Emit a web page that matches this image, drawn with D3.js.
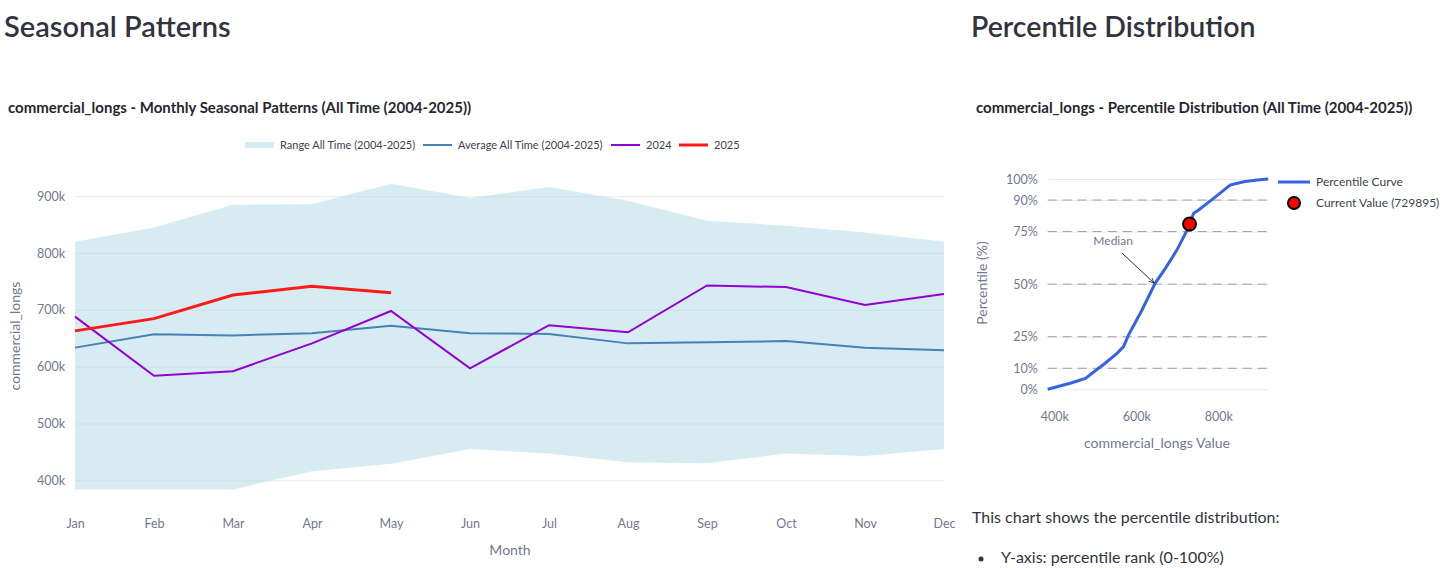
<!DOCTYPE html>
<html>
<head>
<meta charset="utf-8">
<script src="https://cdn.jsdelivr.net/npm/d3@7"></script>
<style>
    body { margin: 0; background: #fff; }
    svg { display: block; }
</style>
</head>
<body>
<svg id="page" width="1456" height="568"></svg>
<script>
// --- data ---
const months = ["Jan", "Feb", "Mar", "Apr", "May", "Jun", "Jul", "Aug", "Sep", "Oct", "Nov", "Dec"];
const rangeMax = [820000, 845000, 885000, 886000, 922000, 897000, 916000, 892000, 857000, 848000, 836000, 820000];
const rangeMin = [384000, 384000, 384000, 416000, 429000, 455000, 447000, 432000, 430000, 447000, 443000, 455000];
const avgAllTime = [633500, 657000, 655000, 659000, 672000, 659000, 657500, 641000, 643000, 645000, 633500, 629000];
const values2024 = [688000, 584000, 592000, 641000, 698000, 597000, 673000, 660500, 743000, 740000, 708500, 728000];
const values2025 = [663000, 684500, 726000, 741500, 729895];
const seasonalTicks = [400000, 500000, 600000, 700000, 800000, 900000];

const pctValues = [384000, 439000, 476000, 508000, 524000, 553000, 569000, 581000, 614000, 646000, 671000, 699000, 724000, 740000, 752000, 788500, 829000, 862000, 895000, 922000];
const pctRanks = [0, 2.9, 5.2, 10, 12.4, 17.1, 20.3, 25.8, 37.7, 50.4, 57.5, 66.2, 75.7, 83.7, 85.3, 90.8, 97.1, 98.7, 99.5, 100];
const pctTicks = [0, 10, 25, 50, 75, 90, 100];
const pctDashed = [10, 25, 50, 75, 90];
const pctXTicks = [400000, 600000, 800000];
const currentValue = 729895;
const currentPct = 78.6;
const medianValue = 646000;

const FONT = "Lato, 'Noto Sans', sans-serif";
const TICK = "#737892", GRID = "#e6eaf0", DARK = "#262730", LEGEND = "#3d4150";

const svg = d3.select("#page").style("font-family", FONT);
const kFmt = d => `${d / 1000}k`;

// page headers
svg.append("text").attr("x", 4).attr("y", 37).text("Seasonal Patterns")
    .attr("font-size", 29).attr("font-weight", 600).attr("fill", "#31333f");
svg.append("text").attr("x", 971).attr("y", 37).text("Percentile Distribution")
    .attr("font-size", 28.5).attr("font-weight", 600).attr("fill", "#31333f");

// ================= Seasonal chart =================
(() => {
    const x = d3.scalePoint().domain(months).range([75, 944]);
    const y = d3.scaleLinear().domain([384000, 925000]).range([489.4, 182]);

    svg.append("text").attr("x", 8).attr("y", 113)
        .text("commercial_longs - Monthly Seasonal Patterns (All Time (2004-2025))")
        .attr("font-size", 15).attr("font-weight", 700).attr("fill", DARK);

    // grid lines
    const yAxis = svg.append("g")
        .attr("transform", "translate(75,0)")
        .call(d3.axisLeft(y).tickValues(seasonalTicks).tickFormat(kFmt).tickSize(-869).tickPadding(10));
    yAxis.select(".domain").remove();
    yAxis.selectAll("line").attr("stroke", GRID);
    yAxis.selectAll("text").attr("fill", TICK).attr("font-size", 12.5).attr("font-family", FONT);

    const xAxis = svg.append("g")
        .attr("transform", "translate(0,489)")
        .call(d3.axisBottom(x).tickSize(0).tickPadding(30));
    xAxis.select(".domain").remove();
    xAxis.selectAll("text").attr("fill", TICK).attr("font-size", 12.5).attr("font-family", FONT);

    // range band
    const area = d3.area()
        .x((d, i) => x(months[i]))
        .y0((d, i) => y(rangeMin[i]))
        .y1(d => y(d));
    svg.append("path").datum(rangeMax)
        .attr("d", area)
        .attr("fill", "rgba(173,216,230,0.5)");

    const line = d3.line().x((d, i) => x(months[i])).y(d => y(d));
    svg.append("path").datum(avgAllTime).attr("d", line)
        .attr("fill", "none").attr("stroke", "#4682b4").attr("stroke-width", 2);
    svg.append("path").datum(values2024).attr("d", line)
        .attr("fill", "none").attr("stroke", "#9400d3").attr("stroke-width", 2);
    svg.append("path").datum(values2025).attr("d", line)
        .attr("fill", "none").attr("stroke", "#ff1a1a").attr("stroke-width", 3);

    // axis titles
    svg.append("text").attr("transform", "translate(20,336) rotate(-90)")
        .attr("text-anchor", "middle").text("commercial_longs")
        .attr("font-size", 14).attr("fill", TICK);
    svg.append("text").attr("x", 510).attr("y", 555)
        .attr("text-anchor", "middle").text("Month")
        .attr("font-size", 14).attr("fill", TICK);

    // legend
    const legend = [
        { label: "Range All Time (2004-2025)", type: "band", x: 245 },
        { label: "Average All Time (2004-2025)", type: "line", color: "#4682b4", w: 2, x: 423 },
        { label: "2024", type: "line", color: "#9400d3", w: 2, x: 611 },
        { label: "2025", type: "line", color: "#ff1a1a", w: 3, x: 679 }
    ];
    const lg = svg.append("g").attr("transform", "translate(0,145)");
    legend.forEach(item => {
        if (item.type === "band") {
            lg.append("rect").attr("x", item.x).attr("y", -3).attr("width", 29).attr("height", 6)
                .attr("fill", "rgba(173,216,230,0.5)");
        } else {
            lg.append("line").attr("x1", item.x).attr("x2", item.x + 29)
                .attr("stroke", item.color).attr("stroke-width", item.w);
        }
        lg.append("text").attr("x", item.x + 35).attr("dy", "0.35em").text(item.label)
            .attr("font-size", 11).attr("fill", LEGEND);
    });
})();

// ================= Percentile chart =================
(() => {
    const x = d3.scaleLinear().domain([384000, 922000]).range([1047.7, 1268.3]);
    const y = d3.scaleLinear().domain([0, 100]).range([389.3, 179]);

    svg.append("clipPath").attr("id", "titleClip")
        .append("rect").attr("x", 960).attr("y", 80).attr("width", 481).attr("height", 50);
    svg.append("text").attr("x", 976).attr("y", 113)
        .attr("clip-path", "url(#titleClip)")
        .text("commercial_longs - Percentile Distribution (All Time (2004-2025))")
        .attr("font-size", 15).attr("font-weight", 700).attr("fill", DARK);

    const yAxis = svg.append("g")
        .attr("transform", "translate(1047.7,0)")
        .call(d3.axisLeft(y).tickValues(pctTicks).tickFormat(d => `${d}%`).tickSize(-220.6).tickPadding(10));
    yAxis.select(".domain").remove();
    yAxis.selectAll("line").attr("stroke", GRID);
    yAxis.selectAll("text").attr("fill", TICK).attr("font-size", 12.5).attr("font-family", FONT);

    const xAxis = svg.append("g")
        .attr("transform", "translate(0,389)")
        .call(d3.axisBottom(x).tickValues(pctXTicks).tickFormat(kFmt).tickSize(0).tickPadding(23));
    xAxis.select(".domain").remove();
    xAxis.selectAll("text").attr("fill", TICK).attr("font-size", 12.5).attr("font-family", FONT);

    // dashed reference lines
    svg.append("g").selectAll("line").data(pctDashed).join("line")
        .attr("x1", x.range()[0]).attr("x2", x.range()[1])
        .attr("y1", d => y(d)).attr("y2", d => y(d))
        .attr("stroke", "#8a8a8a").attr("stroke-opacity", 0.8)
        .attr("stroke-width", 1).attr("stroke-dasharray", "9,6");

    svg.append("path").datum(pctValues)
        .attr("d", d3.line().x(d => x(d)).y((d, i) => y(pctRanks[i])))
        .attr("fill", "none").attr("stroke", "#3564e0").attr("stroke-width", 3);

    svg.append("circle").attr("cx", x(currentValue)).attr("cy", y(currentPct)).attr("r", 6.5)
        .attr("fill", "#ff0000").attr("stroke", "#000").attr("stroke-width", 2);

    // median annotation
    const tipX = x(medianValue), tipY = y(50);
    svg.append("defs").append("marker").attr("id", "arrowHead")
        .attr("viewBox", "0 0 10 10").attr("refX", 9).attr("refY", 5)
        .attr("markerWidth", 6).attr("markerHeight", 6).attr("orient", "auto")
        .append("path").attr("d", "M0,1 L9,5 L0,9").attr("fill", "none").attr("stroke", "#2a2f45").attr("stroke-width", 1.4);
    svg.append("line").attr("x1", tipX - 33).attr("y1", tipY - 31).attr("x2", tipX - 1).attr("y2", tipY - 1)
        .attr("stroke", "#2a2f45").attr("stroke-width", 1).attr("marker-end", "url(#arrowHead)");
    svg.append("text").attr("x", tipX - 42).attr("y", tipY - 43).attr("dy", "0.35em")
        .attr("text-anchor", "middle").text("Median")
        .attr("font-size", 12).attr("fill", TICK);

    svg.append("text").attr("transform", "translate(987,283) rotate(-90)")
        .attr("text-anchor", "middle").text("Percentile (%)")
        .attr("font-size", 14).attr("fill", TICK);
    svg.append("text").attr("x", 1157).attr("y", 448)
        .attr("text-anchor", "middle").text("commercial_longs Value")
        .attr("font-size", 14).attr("fill", TICK);

    // legend
    const lg = svg.append("g");
    lg.append("line").attr("x1", 1278).attr("x2", 1310).attr("y1", 182).attr("y2", 182)
        .attr("stroke", "#3564e0").attr("stroke-width", 3);
    lg.append("text").attr("x", 1316).attr("y", 182).attr("dy", "0.35em").text("Percentile Curve")
        .attr("font-size", 12).attr("fill", LEGEND);
    lg.append("circle").attr("cx", 1294).attr("cy", 203).attr("r", 6)
        .attr("fill", "#ff0000").attr("stroke", "#000").attr("stroke-width", 2);
    lg.append("text").attr("x", 1316).attr("y", 203).attr("dy", "0.35em").text(`Current Value (${currentValue})`)
        .attr("font-size", 12).attr("fill", LEGEND);
})();

// explanatory text under the percentile chart
svg.append("text").attr("x", 972).attr("y", 523).text("This chart shows the percentile distribution:")
    .attr("font-size", 16).attr("fill", "#31333f");
svg.append("circle").attr("cx", 981).attr("cy", 559).attr("r", 2.5).attr("fill", "#31333f");
svg.append("text").attr("x", 1001).attr("y", 563).text("Y-axis: percentile rank (0-100%)")
    .attr("font-size", 16).attr("fill", "#31333f");
</script>
</body>
</html>
